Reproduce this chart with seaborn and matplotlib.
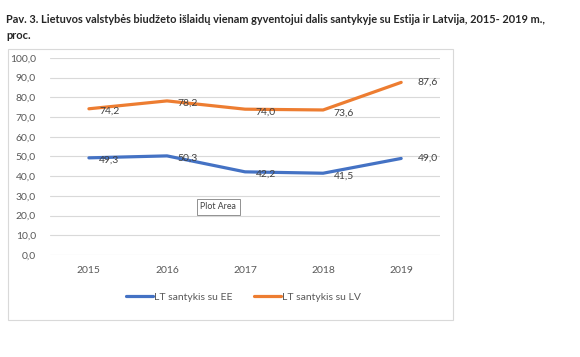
import matplotlib
matplotlib.use("Agg")
import matplotlib.pyplot as plt
import numpy as np
import pandas as pd
import seaborn as sns
from matplotlib.patches import Rectangle

years = ["2015", "2016", "2017", "2018", "2019"]
lt_ee = [49.3, 50.3, 42.2, 41.5, 49.0]
lt_lv = [74.2, 78.2, 74.0, 73.6, 87.6]
series_names = ["LT santykis su EE", "LT santykis su LV"]
yticks = np.arange(0, 101, 10)

sns.set_style("white")
plt.rcParams["font.family"] = ["Lato", "DejaVu Sans"]

df = pd.DataFrame({
    "Metai": years * 2,
    "Reikšmė": lt_ee + lt_lv,
    "Serija": [series_names[0]] * 5 + [series_names[1]] * 5,
})
palette = {series_names[0]: "#4472C4", series_names[1]: "#ED7D31"}

fig = plt.figure(figsize=(5.8, 3.57), dpi=100)
ax = fig.add_axes([0.086, 0.2857, 0.673, 0.552])

# chart frame like Excel
fig.patches.append(Rectangle((0.014, 0.104), 0.767, 0.758, transform=fig.transFigure,
                             fill=False, edgecolor="#D9D9D9", linewidth=0.8, zorder=0))

sns.lineplot(data=df, x="Metai", y="Reikšmė", hue="Serija", palette=palette,
             linewidth=2.3, ax=ax, legend=False, sort=False)

for name, vals in zip(series_names, [lt_ee, lt_lv]):
    for i, v in enumerate(vals):
        dx = 12 if i == len(vals) - 1 else 7.5
        dy = 0 if i == len(vals) - 1 else -2
        ax.annotate(f"{v:.1f}".replace(".", ","), (i, v), xytext=(dx, dy),
                    textcoords="offset points", ha="left", va="center",
                    fontsize=7.5, color="#404040")

ax.set_xlim(-0.5, 4.5)
ax.set_ylim(0, 100)
ax.set_yticks(yticks)
ax.set_yticklabels([f"{t:.1f}".replace(".", ",") for t in yticks])
ax.grid(axis="y", color="#D9D9D9", linewidth=0.8)
ax.set_axisbelow(True)
for s in ax.spines.values():
    s.set_visible(False)
ax.tick_params(axis="both", length=0, labelsize=7.5, colors="#595959", pad=8)
ax.tick_params(axis="y", pad=10)
ax.set_xlabel("")
ax.set_ylabel("")

handles = [plt.Line2D([], [], color=palette[n], linewidth=2.3) for n in series_names]
fig.legend(handles, series_names, loc="center", bbox_to_anchor=(0.42, 0.168),
           ncol=2, frameon=False, fontsize=7.5, handlelength=2.6, handletextpad=0.1,
           columnspacing=2.0, labelcolor="#595959")

# "Plot Area" tooltip from the screenshot
ax.text(0.385, 0.245, "Plot Area", transform=ax.transAxes, fontsize=6.3, color="#404040",
        ha="left", va="center",
        bbox=dict(boxstyle="square,pad=0.4", facecolor="white", edgecolor="#808080",
                  linewidth=0.6))

fig.text(0.011, 0.962, "Pav. 3. Lietuvos valstybės biudžeto išlaidų vienam gyventojui dalis "
         "santykyje su Estija ir Latvija, 2015- 2019 m.,\nproc.",
         fontsize=7.9, fontweight="bold", color="#262626", ha="left", va="top",
         linespacing=1.55)

fig.savefig("out.png", dpi=100)
